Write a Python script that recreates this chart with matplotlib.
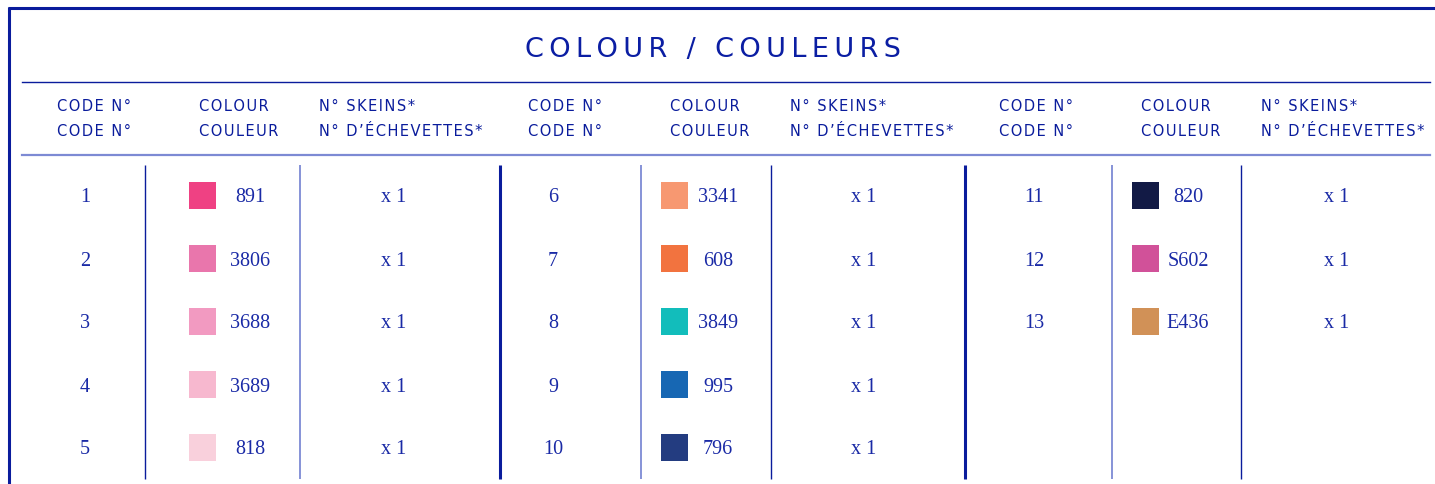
import matplotlib.pyplot as plt
from matplotlib.patches import Rectangle

# Table content, one list per column group
codes = [[1, 2, 3, 4, 5], [6, 7, 8, 9, 10], [11, 12, 13]]
colour_ids = [["891", "3806", "3688", "3689", "818"],
              ["3341", "608", "3849", "995", "796"],
              ["820", "S602", "E436"]]
swatches = [["#ef4183", "#e976ac", "#f29ac1", "#f7b8cf", "#f9d0dc"],
            ["#f79871", "#f2733f", "#12bdbb", "#1767b3", "#233c80"],
            ["#121a45", "#d15199", "#d19157"]]
skeins = [["x 1"] * 5, ["x 1"] * 5, ["x 1"] * 3]

title = "COLOUR / COULEURS"
header_code = ["CODE N°", "CODE N°"]
header_colour = ["COLOUR", "COULEUR"]
header_skeins = ["N° SKEINS*", "N° D’ÉCHEVETTES*"]

dark = "#0a1c9c"
light = "#7d8ad4"
text_col = "#1a2aa6"

# Layout in pixels (figure is 1435 x 484)
code_x = [85, 553, 1034]
swatch_x = [189, 661, 1132]
id_x = [250, 718, 1188]
skein_x = [394, 864, 1337]
head_x = [(57, 199, 319), (528, 670, 790), (999, 1141, 1261)]
row_y0, row_dy, sw = 195, 63, 27


def spaced(s, sep="\u2009"):
    return sep.join(s)


fig = plt.figure(figsize=(14.35, 4.84), dpi=100)
ax = fig.add_axes([0, 0, 1, 1])
ax.set_xlim(0, 1435)
ax.set_ylim(484, 0)
ax.axis("off")

# frame
ax.plot([9, 9], [7, 484], color=dark, lw=2.2, solid_capstyle="butt")
ax.plot([8, 1435], [8, 8], color=dark, lw=2.2, solid_capstyle="butt")

# title and rules
ax.text(713, 57, spaced(title), fontsize=19.5, color="#0b1ea3",
        ha="center", va="baseline", family="DejaVu Sans")
ax.plot([22, 1430], [82, 82], color=dark, lw=1.0)
ax.plot([22, 1430], [155, 155], color=light, lw=1.6)

# column rules
for x, c, w in [(145, dark, 1.0), (300, light, 1.3), (500, dark, 2.2),
                (641, light, 1.3), (771, dark, 1.0), (965, dark, 2.2),
                (1112, light, 1.3), (1241, dark, 1.0)]:
    ax.plot([x, x], [165, 479], color=c, lw=w, solid_capstyle="butt")

for g in range(3):
    # headers
    hx = head_x[g]
    for j, base in enumerate([111, 135.5]):
        for x, s in zip(hx, [header_code[j], header_colour[j], header_skeins[j]]):
            ax.text(x, base, spaced(s, "\u200a"), fontsize=10.5, color=dark,
                    ha="left", va="baseline", family="DejaVu Sans")
    # rows
    for i, code in enumerate(codes[g]):
        y = row_y0 + i * row_dy
        ax.add_patch(Rectangle((swatch_x[g], y - sw / 2), sw, sw,
                               facecolor=swatches[g][i], edgecolor="none"))
        for x, s in [(code_x[g], str(code)), (id_x[g], colour_ids[g][i]),
                     (skein_x[g], skeins[g][i])]:
            ax.text(x, y + 7.5, s, fontsize=14.5, color=text_col,
                    ha="center", va="baseline", family="Liberation Serif")

fig.savefig("out.png", dpi=100)
